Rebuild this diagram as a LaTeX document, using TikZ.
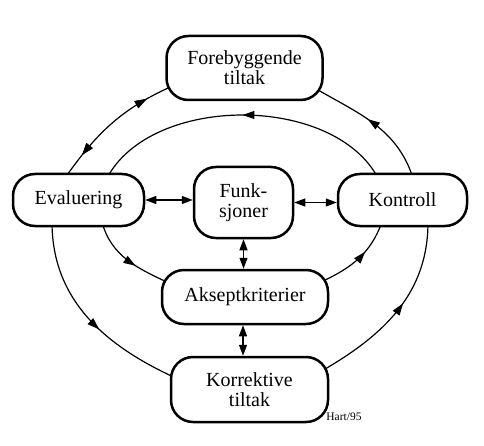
\documentclass[tikz,border=0pt]{standalone}
\usepackage{fontspec}
\setmainfont{Liberation Serif}
\usetikzlibrary{arrows.meta,decorations.markings,backgrounds,calc}
\tikzset{
  box/.style={draw, line width=2.5pt, rounded corners=22pt, fill=white, align=center, inner sep=0pt, font=\fontsize{20}{20}\selectfont},
  conn/.style={line width=1.2pt},
  dbl/.style={conn, {Triangle[length=11pt,width=8pt]}-{Triangle[length=11pt,width=8pt]}},
  midarr/.style={postaction={decorate}, decoration={markings, mark=at position #1 with {\arrow{Triangle[length=12pt,width=8pt]}}}},
  midrev/.style={postaction={decorate}, decoration={markings, mark=at position #1 with {\arrowreversed{Triangle[length=12pt,width=8pt]}}}},
}
\begin{document}
\begin{tikzpicture}[x=1pt,y=1pt]
\useasboundingbox (0,0) rectangle (484,445);
\node[box, minimum width=156pt, minimum height=64pt] (fore) at (244.5,377) {Forebyggende\\tiltak};
\node[box, minimum width=131pt, minimum height=52pt] (eval) at (78.5,245) {Evaluering};
\node[box, minimum width=99pt, minimum height=71pt] (funk) at (243.5,242.5) {Funk-\\sjoner};
\node[box, minimum width=129pt, minimum height=52pt] (kont) at (402.5,245) {Kontroll};
\node[box, minimum width=166pt, minimum height=54pt] (aksept) at (245,148) {Akseptkriterier};
\node[box, minimum width=157pt, minimum height=65pt] (korr) at (249.5,55.5) {Korrektive\\tiltak};
\node[font=\fontsize{11.5}{12}\selectfont, inner sep=0pt] (hart) at (344,28) {Hart/95};
\begin{scope}[on background layer]
  % outer left top, double
  \draw[conn, midrev=0.2, midarr=0.8] ($(eval.center)+(-13.5,22)$) to[out=55,in=204] ($(fore.center)+(-72,-18)$);
  % inner arc Kontroll -> Evaluering
  \draw[conn, midarr=0.5] ($(kont.center)+(-24.5,22)$) to[out=118,in=62,looseness=0.9] ($(eval.center)+(28.5,22)$);
  % Kontroll -> Forebyggende
  \draw[conn, midarr=0.55] ($(kont.center)+(10.5,22)$) to[out=108,in=-30] ($(fore.center)+(70,-20)$);
  % Evaluering -> Akseptkriterier
  \draw[conn, midarr=0.6] ($(eval.center)+(23.5,-22)$) to[out=-75,in=155] ($(aksept.center)+(-76,14)$);
  % Akseptkriterier -> Kontroll
  \draw[conn, midarr=0.6] ($(aksept.center)+(78,16)$) to[out=25,in=-110] ($(kont.center)+(-20.5,-22)$);
  % Evaluering -> Korrektive
  \draw[conn, midarr=0.58] ($(eval.center)+(-26.5,-22)$) to[out=-90,in=155] ($(korr.center)+(-77,13)$);
  % Korrektive -> Kontroll
  \draw[conn, midarr=0.55] ($(korr.center)+(73,19)$) to[out=30,in=-90] ($(kont.center)+(25.5,-22)$);
\end{scope}
\draw[dbl] (eval.east) -- (eval.east -| funk.west);
\draw[dbl] (funk.east) -- (funk.east -| kont.west);
\draw[dbl] (funk.south) -- (funk.south |- aksept.north);
\draw[dbl] ([xshift=-2pt]aksept.south) -- ([xshift=-2pt]aksept.south |- korr.north);
\end{tikzpicture}
\end{document}
